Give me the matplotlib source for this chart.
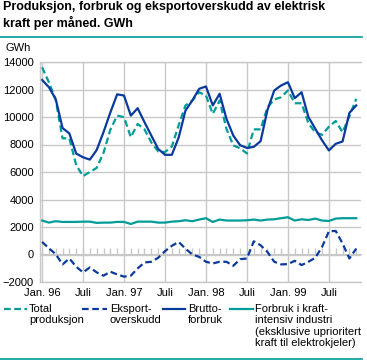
import matplotlib
matplotlib.use("Agg")
import matplotlib.pyplot as plt
import numpy as np
from matplotlib.lines import Line2D

# Monthly values, Jan. 1996 - Nov. 1999 (GWh)
total_produksjon = [13620, 12530, 11250, 8450, 8450, 6500, 5700, 6000, 6300, 7400, 9080, 10100,
                    9990, 8530, 9500, 9100, 8150, 7500, 7450, 7850, 9400, 10840, 11200, 11800,
                    11560, 10230, 11200, 9140, 7930, 7730, 7350, 9100, 9100, 10700, 11270, 11440,
                    11930, 11000, 11000, 9540, 8890, 8700, 9300, 9710, 8890, 10050, 11320]
brutto_forbruk = [12700, 12170, 11300, 9200, 8800, 7340, 7070, 6900, 7600, 8900, 10330, 11650,
                  11560, 10100, 10640, 9620, 8650, 7680, 7250, 7250, 8500, 10470, 11200, 12050,
                  12220, 10840, 11690, 9870, 8650, 7950, 7750, 7830, 8240, 10500, 11930, 12290,
                  12530, 11370, 11800, 10000, 9150, 8300, 7570, 8050, 8220, 10300, 10840]
eksportoverskudd = [915, 450, 30, -720, -290, -890, -1300, -940, -1300, -1540, -1250, -1450,
                    -1610, -1540, -1010, -580, -530, -240, 240, 630, 915, 430, 0, -170,
                    -530, -650, -530, -530, -820, -340, -290, 960, 670, 190, -530, -720,
                    -700, -460, -770, -530, -240, 550, 1690, 1710, 800, -290, 430]
kraftintensiv = [2470, 2320, 2420, 2370, 2370, 2370, 2390, 2390, 2300, 2320, 2320, 2370,
                 2370, 2220, 2390, 2390, 2390, 2320, 2320, 2390, 2420, 2490, 2420, 2540,
                 2640, 2370, 2540, 2470, 2470, 2470, 2490, 2540, 2470, 2540, 2560, 2640,
                 2710, 2470, 2560, 2510, 2610, 2470, 2440, 2610, 2640, 2640, 2640]

tick_pos = [0, 6, 12, 18, 24, 30, 36, 42]
tick_labels = ["Jan. 96", "Juli", "Jan. 97", "Juli", "Jan. 98", "Juli", "Jan. 99", "Juli"]

BLUE = "#0a3a9c"
TEAL = "#009c98"
GRID = "#c8c8c8"
FONT = "Liberation Sans"
FS = 8

plt.rcParams["font.family"] = [FONT, "DejaVu Sans"]

W, H = 367, 361
fig = plt.figure(figsize=(W / 100, H / 100), dpi=100)
ax = fig.add_axes([40 / W, 1 - 282 / H, 321 / W, 220 / H])

x = np.arange(len(brutto_forbruk))
dash = (0, (3, 1.6))
ax.plot(x, kraftintensiv, color=TEAL, lw=1.6, solid_joinstyle="miter")
ax.plot(x, eksportoverskudd, color=BLUE, lw=1.6, linestyle=dash)
ax.plot(x, total_produksjon, color=TEAL, lw=1.6, linestyle=dash)
ax.plot(x, brutto_forbruk, color=BLUE, lw=1.6)

ax.set_xlim(-0.3, 46.7)
ax.set_ylim(-2000, 14000)
ax.set_yticks(range(-2000, 14001, 2000))
ax.set_xticks(tick_pos)
ax.set_xticklabels(tick_labels)
ax.tick_params(length=0, labelsize=FS, pad=4.5)
ax.grid(True, color=GRID, lw=1)
ax.set_axisbelow(True)
for side in ["right"]:
    ax.spines[side].set_visible(False)
for side in ["left", "top", "bottom"]:
    ax.spines[side].set_color(GRID)
    ax.spines[side].set_linewidth(1)

# monthly tick marks on the zero line
sec = ax.secondary_xaxis(2000 / 16000)
sec.set_xticks(x)
sec.set_xticklabels([])
sec.tick_params(direction="in", length=4.5, color=GRID, width=1)
sec.spines["bottom"].set_color(GRID)

fig.text(3 / W, 1 - 1 / H, "Produksjon, forbruk og eksportoverskudd av elektrisk\nkraft per måned. GWh",
         fontsize=9, fontweight="bold", va="top", ha="left", linespacing=1.3)
fig.text(5 / W, 1 - 48 / H, "GWh", fontsize=FS, va="center", ha="left")

fig.add_artist(Line2D([0, 362 / W], [1 - 37 / H, 1 - 37 / H], color=TEAL, lw=1.2))
fig.add_artist(Line2D([0, 362 / W], [1 - 359 / H, 1 - 359 / H], color=TEAL, lw=1.2))

legend_items = [
    ((4, 27), 29, TEAL, dash, "Total\nproduksjon"),
    ((82, 107), 110, BLUE, dash, "Eksport-\noverskudd"),
    ((163, 185), 188, BLUE, "-", "Brutto-\nforbruk"),
    ((230, 253), 255, TEAL, "-", "Forbruk i kraft-\nintensiv industri\n(eksklusive uprioritert\nkraft til elektrokjeler)"),
]
for (x0, x1), tx, col, ls, label in legend_items:
    fig.add_artist(Line2D([x0 / W, x1 / W], [1 - 309 / H, 1 - 309 / H], color=col, lw=1.6, linestyle=ls))
    fig.text(tx / W, 1 - 303.5 / H, label, fontsize=FS, va="top", ha="left", linespacing=1.2)

fig.savefig("out.png", dpi=100)
